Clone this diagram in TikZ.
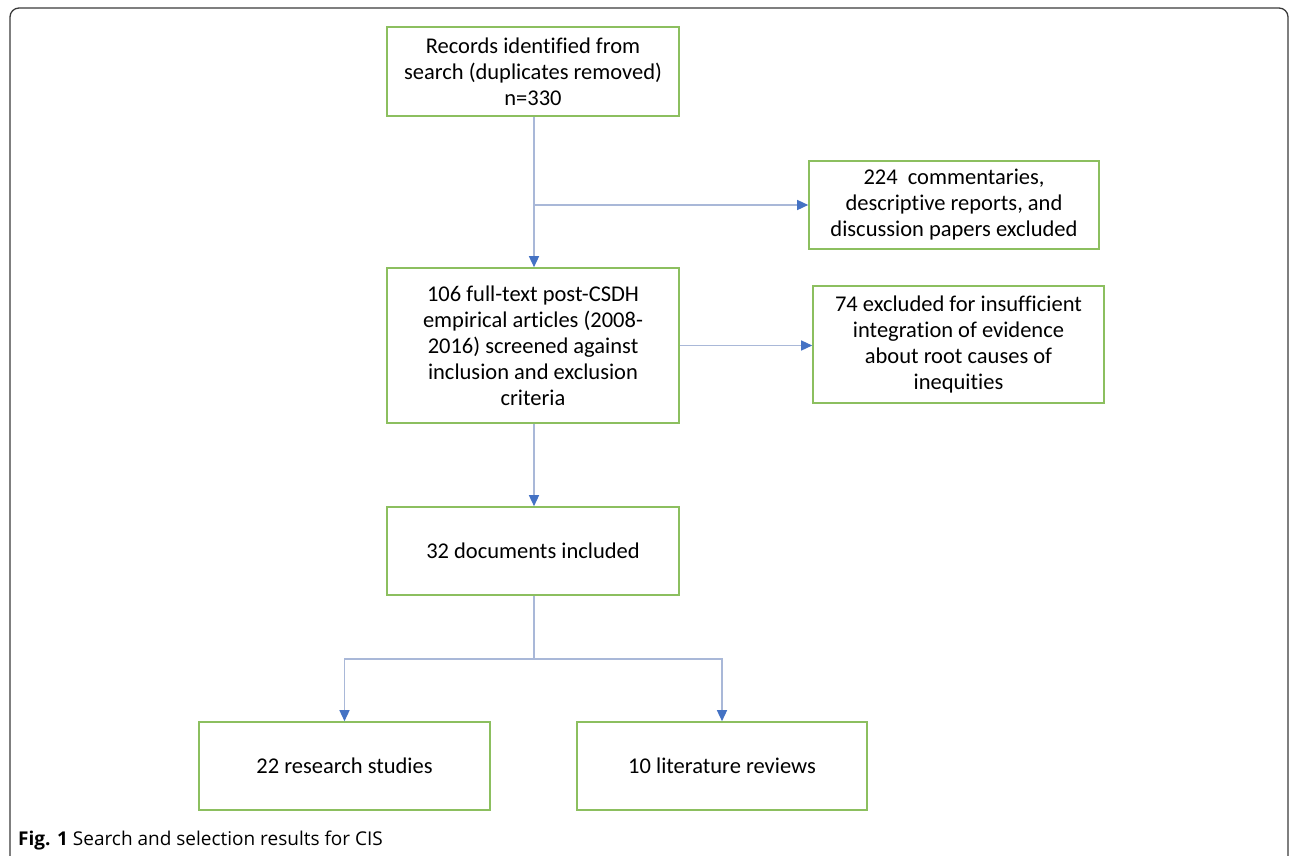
\documentclass[tikz,border=0pt]{standalone}
\usepackage{fontspec}
\setmainfont[Ligatures=NoCommon]{Carlito}
\newfontfamily\capfont{Open Sans}
\usetikzlibrary{arrows.meta}
\definecolor{boxgreen}{HTML}{8CBF5F}
\definecolor{linecol}{HTML}{A9B8D8}
\definecolor{tipblue}{HTML}{4472C4}
\definecolor{framecol}{HTML}{3A3A3A}
\tikzset{
  box/.style={draw=boxgreen, line width=1.6pt, minimum width=292pt, align=center,
    font=\fontsize{22.5}{26}\selectfont, inner sep=0pt},
  conn/.style={draw=linecol, line width=1.4pt, -{Triangle[length=11pt,width=10pt,color=tipblue,fill=tipblue]}},
  plain/.style={draw=linecol, line width=1.4pt}
}
\begin{document}
\begin{tikzpicture}[x=1pt,y=-1pt]
\useasboundingbox (0,0) rectangle (1290,856);
\begin{scope}
\clip (0,0) rectangle (1290,856);
\draw[framecol, line width=1.3pt, rounded corners=9pt] (10,8) rectangle (1288,880);
\end{scope}
\node[box, minimum height=89pt] (rec) at (533,71.5) {Records identified from\\search (duplicates removed)\\n=330};
\node[box, minimum width=290pt, minimum height=88pt] (com) at (954,205) {224\ \ commentaries,\\descriptive reports, and\\discussion papers excluded};
\node[box, minimum height=155pt] (full) at (533,345.5) {106 full-text post-CSDH\\empirical articles (2008-\\2016) screened against\\inclusion and exclusion\\criteria};
\node[box, minimum width=291pt, minimum height=117pt] (exc) at (958.5,344.5) {74 excluded for insufficient\\integration of evidence\\about root causes of\\inequities};
\node[box, minimum height=88pt] (doc) at (533,551) {32 documents included};
\node[box, minimum width=291pt, minimum height=88pt] (res) at (344.5,766) {22 research studies};
\node[box, minimum width=290pt, minimum height=88pt] (lit) at (722,766) {10 literature reviews};
\coordinate (br1) at (534,205);
\coordinate (br2) at (534,659);
\draw[conn] (rec.south -| br1) -- (full.north -| br1);
\draw[conn] (br1) -- (com.west |- br1);
\draw[conn] (full.east) -- (exc.west |- full.east);
\draw[conn] (full.south -| br1) -- (doc.north -| br1);
\draw[plain] (doc.south -| br1) -- (br2);
\draw[conn] (br2) -| (res.north);
\draw[conn] (br2) -| (lit.north);
\node[anchor=base west, inner sep=0pt, font=\capfont\fontsize{19}{22}\selectfont] (cap) at (18,845) {\textbf{Fig. 1} Search and selection results for CIS};
\end{tikzpicture}
\end{document}
